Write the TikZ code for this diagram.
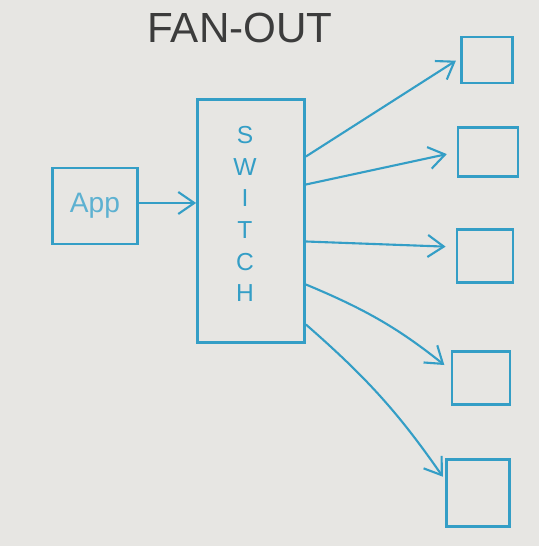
\documentclass[tikz,border=0pt]{standalone}
\usepackage{fontspec}
\setmainfont{Liberation Sans}
\usetikzlibrary{arrows.meta}

\definecolor{board}{RGB}{231,230,227}
\definecolor{marker}{RGB}{52,158,198}
\definecolor{ink}{RGB}{60,60,60}

\tikzset{
  box/.style={draw=marker, line width=1.6pt, inner sep=0pt},
  link/.style={draw=marker, line width=1.2pt, -{Straight Barb[length=3.2mm, width=4.4mm]}}
}

\begin{document}
\begin{tikzpicture}[x=0.02cm, y=-0.02cm]

% Board
\fill[board] (0,0) rectangle (539,546);
\useasboundingbox (0,0) rectangle (539,546);

% Title
\node[text=ink, font=\fontsize{24}{28}\selectfont] (title) at (240,28) {FAN-OUT};

% App and switch
\node[box, minimum width=1.7cm, minimum height=1.52cm, text=marker!80,
      font=\fontsize{16}{18}\selectfont] (app) at (95,206) {App};
\node[box, minimum width=2.14cm, minimum height=4.86cm] (sw) at (251,221) {};
\node[text=marker, align=center, font=\fontsize{14}{18}\selectfont]
  (swlabel) at (245,214) {S\\W\\I\\T\\C\\H};

\draw[link] ([yshift=0.06cm]app.east) -- ([yshift=0.06cm]app.east -| sw.west);

% Targets
\node[box, minimum width=1.02cm, minimum height=0.92cm] (t1) at (487,60) {};
\node[box, minimum width=1.2cm,  minimum height=0.98cm] (t2) at (488,152) {};
\node[box, minimum width=1.12cm, minimum height=1.06cm] (t3) at (485,256) {};
\node[box, minimum width=1.16cm, minimum height=1.06cm] (t4) at (481,378) {};
\node[box, minimum width=1.26cm, minimum height=1.34cm] (t5) at (478,493) {};

% Fan-out
\draw[link, shorten >=1mm] ([yshift=1.29cm]sw.east) -- ([yshift=0.04cm]t1.west);
\draw[link, shorten >=2mm] ([yshift=0.73cm]sw.east) -- (t2.west);
\draw[link, shorten >=2mm] ([yshift=-0.41cm]sw.east) -- ([yshift=0.18cm]t3.west);
\draw[link, shorten >=1.6mm] ([yshift=-1.27cm]sw.east) to[bend left=8] ([yshift=0.16cm]t4.west);
\draw[link, shorten >=0.8mm] ([yshift=-2.07cm]sw.east) to[bend left=7] ([yshift=0.26cm]t5.west);

\end{tikzpicture}
\end{document}
